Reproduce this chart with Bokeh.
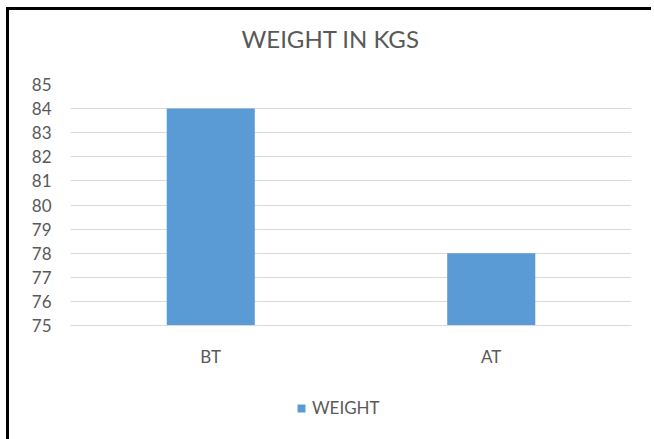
from bokeh.plotting import figure
from bokeh.layouts import column
from bokeh.models import Legend, LegendItem, Range1d, SingleIntervalTicker, Label
from bokeh.embed import file_html
from bokeh.resources import INLINE

categories = ["BT", "AT"]
weights = [84, 78]
series_name = "WEIGHT"
title_text = "WEIGHT IN KGS"
y_min, y_max = 75, 85

FONT = "Lato"
TXT = "#595959"
BAR = "#5B9BD5"
GRID = "#D9D9D9"
W = 642

# --- title strip (frame aligned with main chart frame) ---
tf = figure(width=W, height=64, x_range=Range1d(0, 1), y_range=Range1d(0, 1),
            output_backend="svg", toolbar_location=None,
            min_border=0, outline_line_color=None,
            x_axis_type=None, y_axis_type=None)
tf.grid.visible = False
tf.add_layout(Label(x=0.4635, y=0.56, text=title_text, text_align="center",
                    text_baseline="middle", text_font=FONT,
                    text_font_size="24px", text_color=TXT))

# --- main chart ---
p = figure(x_range=categories, y_range=Range1d(y_min, y_max),
           frame_width=561, frame_height=241,
           output_backend="svg", toolbar_location=None,
           min_border_left=61, min_border_right=20, min_border_top=10,
           min_border_bottom=55, outline_line_color=None)

r = p.vbar(x=categories, top=weights, bottom=y_min, width=0.314,
           fill_color=BAR, line_color=None)

p.yaxis.ticker = SingleIntervalTicker(interval=1)
p.yaxis.axis_line_color = None
p.yaxis.major_tick_line_color = None
p.yaxis.minor_tick_line_color = None
p.yaxis.major_label_text_font = FONT
p.yaxis.major_label_text_font_size = "17px"
p.yaxis.major_label_text_color = TXT
p.yaxis.major_label_standoff = 13

p.xaxis.axis_line_color = GRID
p.xaxis.major_tick_line_color = None
p.xaxis.minor_tick_line_color = None
p.xaxis.major_label_text_font = FONT
p.xaxis.major_label_text_font_size = "17px"
p.xaxis.major_label_text_color = TXT
p.xaxis.major_label_standoff = 14

p.xgrid.grid_line_color = None
p.ygrid.grid_line_color = GRID
p.ygrid.grid_line_width = 1

# --- legend strip ---
lf = figure(width=W, height=59, x_range=Range1d(0, 1), y_range=Range1d(0, 1),
            output_backend="svg", toolbar_location=None,
            min_border=0, outline_line_color=None,
            x_axis_type=None, y_axis_type=None)
lf.grid.visible = False
# zero-height swatch renderer placed outside the visible range (legend key only)
lr = lf.vbar(x=[-5], top=[0], bottom=[0], width=0.1, fill_color=BAR,
             line_color=None)
legend = Legend(items=[LegendItem(label=series_name, renderers=[lr])],
                location=(226, 21), orientation="horizontal",
                glyph_width=10, glyph_height=10, label_standoff=6,
                label_height=20, padding=0, margin=0, border_line_color=None,
                background_fill_alpha=0, label_text_font=FONT,
                label_text_font_size="17px", label_text_color=TXT)
lf.add_layout(legend, "center")

layout = column(tf, p, lf, spacing=0,
                styles={"border-left": "3px solid black",
                        "border-top": "3px solid black",
                        "margin-left": "6px", "margin-top": "7px"})

open("out.html", "w").write(file_html(layout, INLINE))
